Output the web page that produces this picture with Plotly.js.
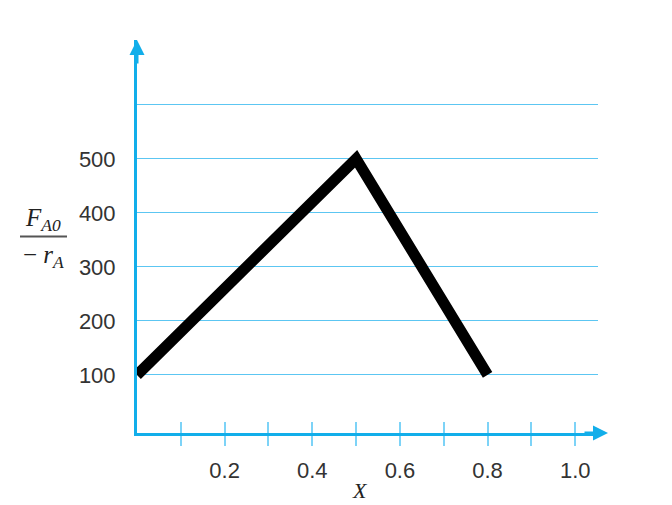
<!DOCTYPE html>
<html><head><meta charset="utf-8">
<script src="https://cdn.plot.ly/plotly-3.0.1.min.js"></script>
<style>body{margin:0;background:#fff}#chart{width:672px;height:505px}</style>
</head><body><div id="chart"></div>
<script>
const conversion = [0, 0.5, 0.8];
const levenspiel = [100, 500, 100];
const xTickVals = [0.1, 0.2, 0.3, 0.4, 0.5, 0.6, 0.7, 0.8, 0.9, 1.0];
const xTickText = ['', '0.2', '', '0.4', '', '0.6', '', '0.8', '', '1.0'];
const yTickVals = [100, 200, 300, 400, 500, 600];
const yTickText = ['100', '200', '300', '400', '500', ''];

const axisBlue = '#12aeea';
const gridBlue = '#5cc6f2';
const tickFont = {family: 'Liberation Sans, Arial, sans-serif', size: 22, color: '#333'};
const serif = 'Liberation Serif, Times New Roman, serif';

const trace = {
  x: conversion, y: levenspiel, type: 'scatter', mode: 'lines',
  line: {color: '#000', width: 11}, hoverinfo: 'skip'
};

const layout = {
  width: 672, height: 505,
  margin: {l: 137, r: 74, t: 40, b: 72},
  paper_bgcolor: '#fff', plot_bgcolor: '#fff',
  showlegend: false,
  xaxis: {
    range: [0, 1.052], showgrid: false, zeroline: false,
    showline: true, linecolor: axisBlue, linewidth: 3,
    tickvals: xTickVals, ticktext: xTickText,
    ticks: 'outside', ticklen: 10, tickwidth: 2, tickcolor: '#7dd3f7',
    tickfont: tickFont, ticklabelstandoff: 6
  },
  xaxis2: {
    range: [0, 1.052], overlaying: 'x', showgrid: false, zeroline: false,
    tickvals: xTickVals, showticklabels: false,
    ticks: 'inside', ticklen: 11, tickwidth: 2, tickcolor: '#7dd3f7',
    anchor: 'y'
  },
  yaxis: {
    range: [-7.4, 720], zeroline: false,
    showline: true, linecolor: axisBlue, linewidth: 3,
    showgrid: true, gridcolor: gridBlue, gridwidth: 1,
    tickvals: yTickVals, ticktext: yTickText, ticks: '',
    tickfont: tickFont, ticklabelstandoff: 14
  },
  shapes: [
    {type: 'line', xref: 'paper', yref: 'paper', x0: (20 - 137) / 461, x1: (67 - 137) / 461, y0: 0.5, y1: 0.5,
     line: {color: '#555', width: 2}}
  ],
  annotations: [
    {xref: 'paper', yref: 'y', x: 0, y: 720, text: '', showarrow: true,
     arrowhead: 2, arrowsize: 1, arrowwidth: 3, arrowcolor: axisBlue, ax: 0, ay: 25, standoff: 0},
    {xref: 'paper', yref: 'paper', x: (608 - 137) / 461, y: 0, text: '', showarrow: true,
     arrowhead: 2, arrowsize: 1, arrowwidth: 3, arrowcolor: axisBlue, ax: -25, ay: 0, standoff: 0},
    {xref: 'paper', yref: 'paper', x: (23 - 137) / 461, xanchor: 'left', y: 0.5, yanchor: 'middle', yshift: 17,
     text: '<i>F<sub>A0</sub></i>',
     showarrow: false, font: {family: serif, size: 25, color: '#222'}},
    {xref: 'paper', yref: 'paper', x: (21 - 137) / 461, xanchor: 'left', y: 0.5, yanchor: 'middle', yshift: -20,
     text: '− <i>r<sub>A</sub></i>',
     showarrow: false, font: {family: serif, size: 25, color: '#222'}},
    {xref: 'x', yref: 'paper', x: 0.51, y: 0, yanchor: 'middle', yshift: -57, text: '<i>X</i>',
     showarrow: false, font: {family: serif, size: 22, color: '#222'}}
  ]
};

Plotly.newPlot('chart', [trace, {x: [0], y: [0], xaxis: 'x2', type: 'scatter', mode: 'markers', marker: {opacity: 0}, hoverinfo: 'skip'}], layout, {displayModeBar: false, staticPlot: true});
</script></body></html>
